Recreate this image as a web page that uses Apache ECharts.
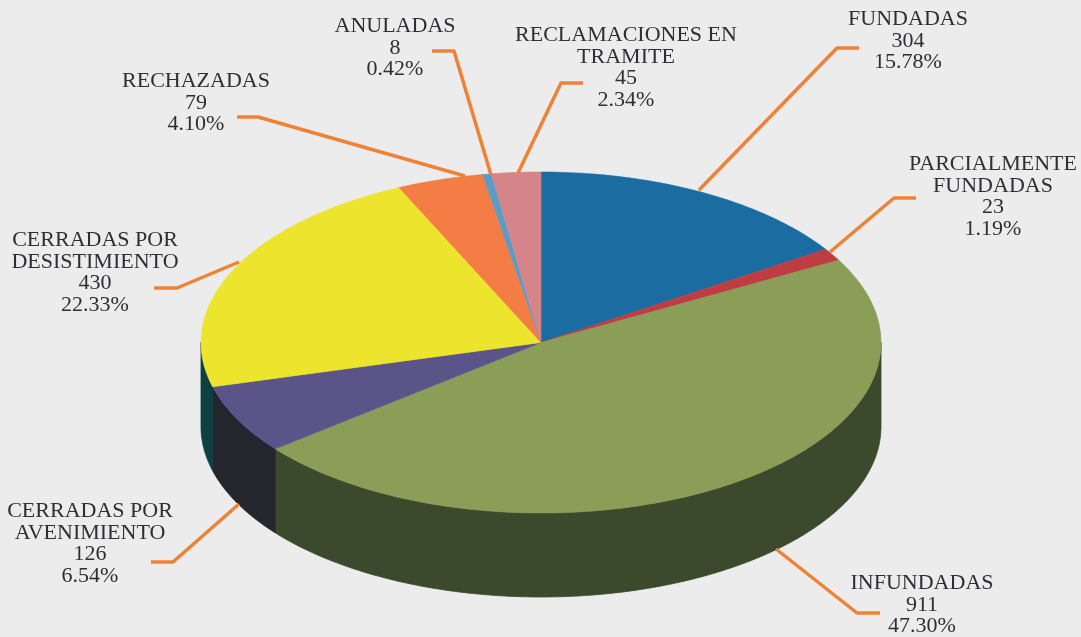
<!DOCTYPE html>
<html><head><meta charset="utf-8">
<style>html,body{margin:0;padding:0;background:#ececec}#c{width:1081px;height:637px}</style>
<script src="https://cdn.jsdelivr.net/npm/echarts@6/dist/echarts.min.js"></script>
</head><body><div id="c"></div>
<script>
var categories = ['FUNDADAS','PARCIALMENTE\nFUNDADAS','INFUNDADAS','CERRADAS POR\nAVENIMIENTO','CERRADAS POR\nDESISTIMIENTO','RECHAZADAS','ANULADAS','RECLAMACIONES EN\nTRAMITE'];
var values = [304,23,911,126,430,79,8,45];
var percents = ['15.78%','1.19%','47.30%','6.54%','22.33%','4.10%','0.42%','2.34%'];

var topColors = ['#1a6ca1','#bf3d42','#8a9e58','#5b5488','#ede52d','#f47c45','#5a9dc4','#d5848a'];
var sideColors = ['#0e3f5e','#6e2226','#3b4a2c','#25252d','#0e3f42','#8a4626','#33586f','#7a4b4e'];
var CX = 541, CY = 342.5, RX = 340, RY = 170.5, DEPTH = 84;
var FONT = '"Liberation Serif", serif', FSIZE = 22, LH = 21.4;
var labelAnchors = [[908,9],[993,154],[922,573],[90,501],[95,230],[196,71],[395,16],[626,25]];
var leaderPaths = [
  [[859,48],[837,48],[699,190]],
  [[916,198],[894,198],[830,252]],
  [[880,613],[857,613],[776,549]],
  [[151,562],[173,562],[239,504]],
  [[154,288],[177,288],[239,262]],
  [[237,117],[258,117],[465,176]],
  [[432,51],[454,51],[491,175]],
  [[583,83],[561,83],[518,173]]
];

var total = values.reduce(function(a,b){return a+b;},0);
var startFrac = [], acc = 0;
values.forEach(function(v){ startFrac.push(acc/total); acc += v; });
function rim(deg, dy){
  var t = deg*Math.PI/180;
  return [CX + RX*Math.sin(t), CY - RY*Math.cos(t) + (dy||0)];
}
function sliceAngles(i){
  return [startFrac[i]*360, (startFrac[i]+values[i]/total)*360];
}
function arc(a,b,dy){
  var pts = [], n = Math.max(2, Math.ceil(Math.abs(b-a)));
  for (var k=0;k<=n;k++) pts.push(rim(a+(b-a)*k/n, dy));
  return pts;
}
function renderSide(params){
  var i = params.dataIndex, r = sliceAngles(i);
  var a = Math.max(r[0],90), b = Math.min(r[1],270);
  if (b <= a) return {type:'group',children:[]};
  var pts = arc(a,b,0).concat(arc(b,a,DEPTH));
  return {type:'polygon',shape:{points:pts},style:{fill:sideColors[i],stroke:sideColors[i],lineWidth:0.8}};
}
function renderTop(params){
  var i = params.dataIndex, r = sliceAngles(i);
  var pts = [[CX,CY]].concat(arc(r[0],r[1],0));
  return {type:'polygon',shape:{points:pts},style:{fill:topColors[i],stroke:topColors[i],lineWidth:0.6,lineJoin:'round'}};
}
function renderLabel(params){
  var i = params.dataIndex, p = labelAnchors[i];
  return {type:'group',children:[
    {type:'polyline',shape:{points:leaderPaths[i]},style:{fill:null,stroke:'#ee8237',lineWidth:3.5,lineJoin:'round'}},
    {type:'text',x:p[0],y:p[1],style:{
      text:categories[i]+'\n'+values[i]+'\n'+percents[i],
      align:'center',verticalAlign:'top',fill:'#2e2e34',font:FSIZE+'px '+FONT,lineHeight:LH}}
  ]};
}
var chart = echarts.init(document.getElementById('c'),null,{renderer:'canvas'});
chart.setOption({
  animation:false,
  backgroundColor:'#ececec',
  series:[
    {type:'custom',coordinateSystem:'none',silent:true,data:values,renderItem:renderSide,z:1},
    {type:'custom',coordinateSystem:'none',silent:true,data:values,renderItem:renderTop,z:2},
    {type:'custom',coordinateSystem:'none',silent:true,data:values,renderItem:renderLabel,z:3}
  ]
});
</script></body></html>
